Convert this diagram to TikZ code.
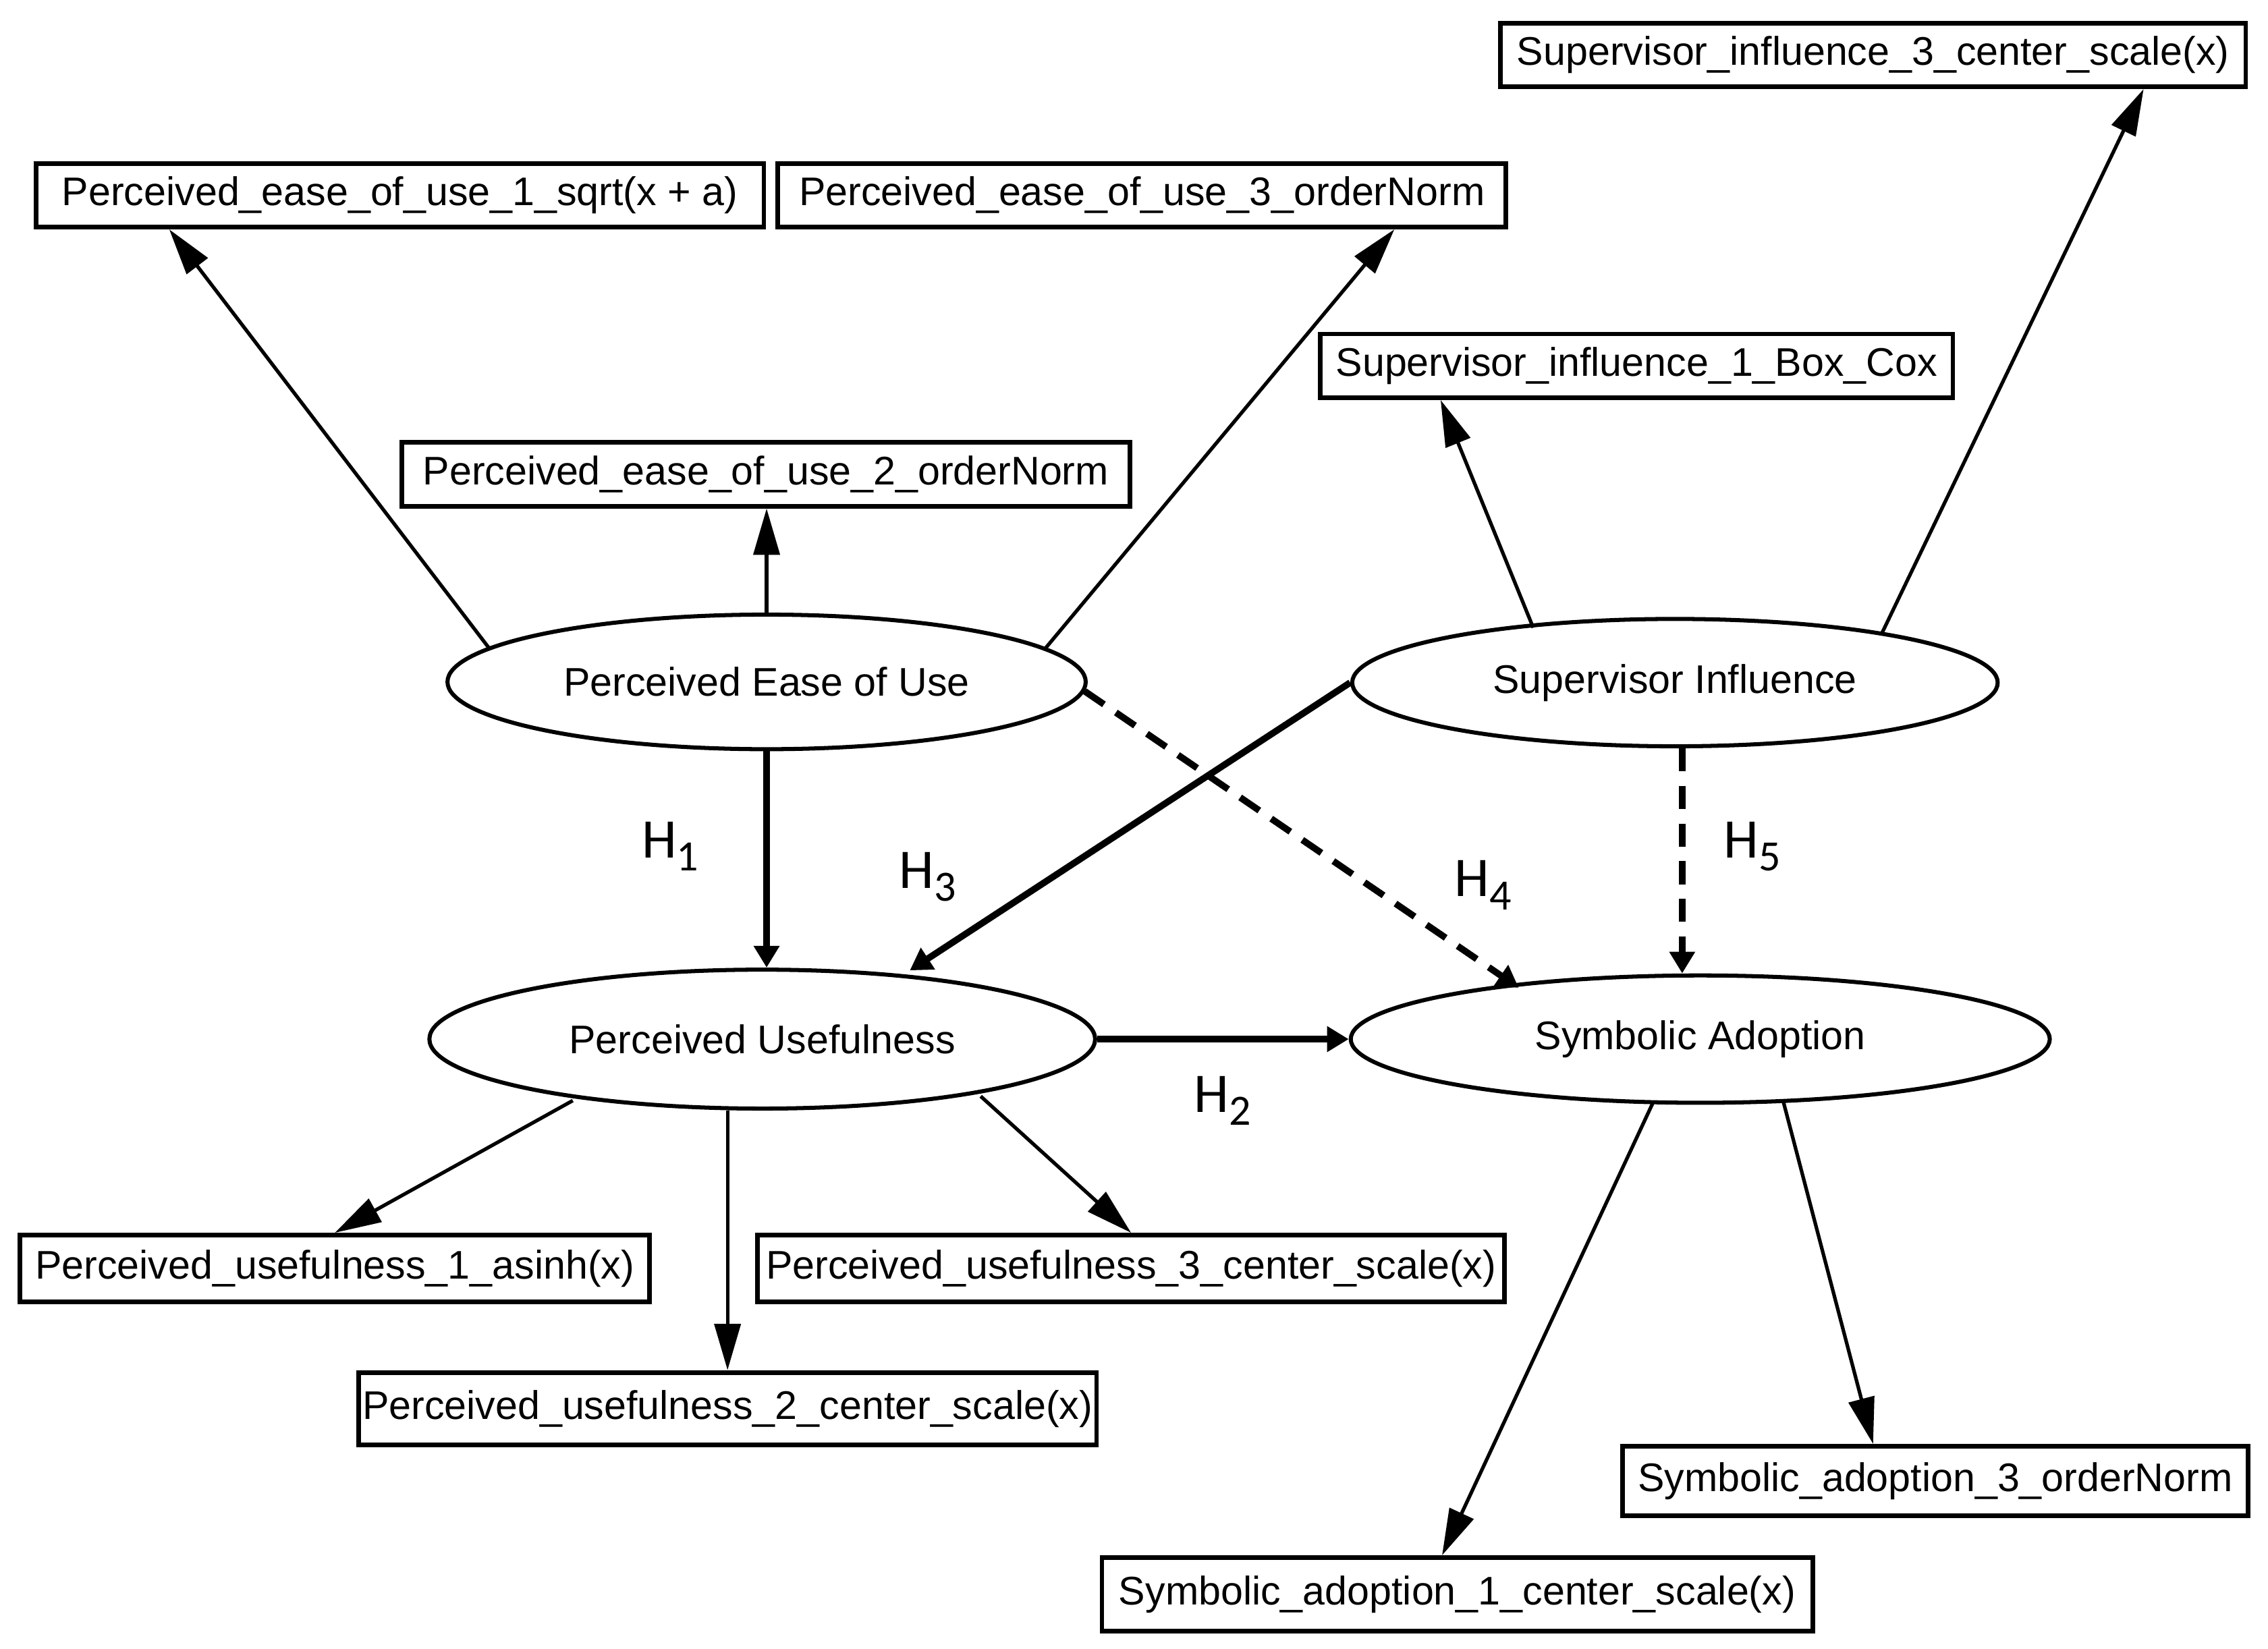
\documentclass[tikz,border=0pt]{standalone}
\usepackage{fontspec}
\setmainfont{Liberation Sans}
\newfontfamily\hfont{Carlito}
\usetikzlibrary{shapes.geometric,arrows.meta,calc}
\begin{document}
\begin{tikzpicture}[x=0.01cm,y=-0.01cm,
 ibox/.style={draw,line width=0.9pt,rectangle,inner sep=0pt,font=\fontsize{7.85}{9}\selectfont},
 lat/.style={draw,ellipse,line width=0.8pt,inner sep=0pt,font=\fontsize{7.85}{9}\selectfont},
 ind/.style={line width=0.7pt,-{Triangle[length=3.2mm,width=1.8mm]}},
 hyp/.style={line width=1.3pt,-{Triangle[length=1.5mm,width=1.7mm]}},
 hypd/.style={hyp,dash pattern=on 1.6mm off 1.0mm},
 hlab/.style={anchor=base west,inner sep=0pt,font=\hfont\fontsize{11}{13}\selectfont}]
\useasboundingbox (0,0) rectangle (1568,1140);

% indicator boxes
\node[ibox,minimum width=5.03cm,minimum height=0.44cm] (peou1) at (276.5,135) {Perceived\_ease\_of\_use\_1\_sqrt(x + a)};
\node[ibox,minimum width=5.03cm,minimum height=0.44cm] (peou3) at (789.5,135) {Perceived\_ease\_of\_use\_3\_orderNorm};
\node[ibox,minimum width=5.03cm,minimum height=0.44cm] (peou2) at (529.5,328) {Perceived\_ease\_of\_use\_2\_orderNorm};
\node[ibox,minimum width=5.15cm,minimum height=0.44cm] (si3) at (1295,38) {Supervisor\_influence\_3\_center\_scale(x)};
\node[ibox,minimum width=4.37cm,minimum height=0.44cm] (si1) at (1131.5,253) {Supervisor\_influence\_1\_Box\_Cox};
\node[ibox,minimum width=4.35cm,minimum height=0.46cm] (pu1) at (231.5,877) {Perceived\_usefulness\_1\_asinh(x)};
\node[ibox,minimum width=5.16cm,minimum height=0.46cm] (pu3) at (782,877) {Perceived\_usefulness\_3\_center\_scale(x)};
\node[ibox,minimum width=5.10cm,minimum height=0.50cm] (pu2) at (503,974) {Perceived\_usefulness\_2\_center\_scale(x)};
\node[ibox,minimum width=4.32cm,minimum height=0.48cm] (sa3) at (1338,1024) {Symbolic\_adoption\_3\_orderNorm};
\node[ibox,minimum width=4.91cm,minimum height=0.51cm] (sa1) at (1007.5,1102.5) {Symbolic\_adoption\_1\_center\_scale(x)};

% latent variables
\node[lat,minimum width=4.41cm,minimum height=0.93cm] (peou) at (530,471.5) {Perceived Ease of Use};
\node[lat,minimum width=4.46cm,minimum height=0.88cm] (si) at (1158,472) {Supervisor Influence};
\node[lat,minimum width=4.60cm,minimum height=0.96cm] (pu) at (527,718.5) {Perceived Usefulness};
\node[lat,minimum width=4.83cm,minimum height=0.88cm] (sa) at (1175.5,718.5) {Symbolic Adoption};

% measurement arrows
\draw[ind] ($(peou.center)+(-192,-23.5)$) -- ($(peou1.south)+(-159.5,0)$);
\draw[ind] (peou.north) -- (peou.north |- peou2.south);
\draw[ind] ($(peou.center)+(193,-23.5)$) -- ($(peou3.south)+(174.5,0)$);
\draw[ind] ($(si.center)+(-98,-38)$) -- ($(si1.south)+(-135.5,0)$);
\draw[ind] ($(si.center)+(143,-34)$) -- ($(si3.south)+(187,0)$);
\draw[ind] ($(pu.center)+(-131,42.5)$) -- (pu1.north);
\draw[ind] (pu.south -| pu2.north) -- (pu2.north);
\draw[ind] ($(pu.center)+(151,39.5)$) -- (pu3.north);
\draw[ind] ($(sa.center)+(-32.5,43.5)$) -- ($(sa1.north)+(-10.5,0)$);
\draw[ind] ($(sa.center)+(57.5,43.5)$) -- ($(sa3.north)+(-43,0)$);

% structural paths
\draw[hyp] (peou.south) -- (peou.south |- pu.north);
\draw[hyp] (si.west) -- ($(pu.center)+(102,-47.5)$);
\draw[hypd] ($(peou.center)+(220,6.5)$) -- ($(sa.center)+(-125.5,-35.5)$);
\draw[hypd] ($(si.south)+(5,0)$) -- ($(sa.north)+(-12.5,0)$);
\draw[hyp] (pu.east) -- (sa.west);

% hypothesis labels
\node[hlab] (h1) at (443,593) {H\raisebox{-2.6pt}{\fontsize{8.5}{9}\selectfont 1}};
\node[hlab] (h3) at (621,614) {H\raisebox{-2.6pt}{\fontsize{8.5}{9}\selectfont 3}};
\node[hlab] (h4) at (1005,620) {H\raisebox{-2.6pt}{\fontsize{8.5}{9}\selectfont 4}};
\node[hlab] (h5) at (1191,593) {H\raisebox{-2.6pt}{\fontsize{8.5}{9}\selectfont 5}};
\node[hlab] (h2) at (825,769) {H\raisebox{-2.6pt}{\fontsize{8.5}{9}\selectfont 2}};
\end{tikzpicture}
\end{document}
